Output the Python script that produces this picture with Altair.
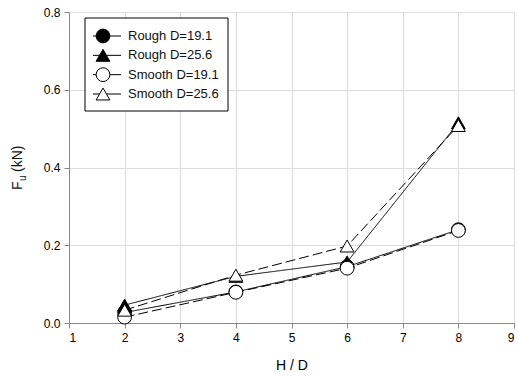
import altair as alt
import pandas as pd

series_names = ["Rough D=19.1", "Rough D=25.6", "Smooth D=19.1", "Smooth D=25.6"]
hd = [2, 4, 6, 8]
rough_191 = [0.027, 0.080, 0.145, 0.240]
rough_256 = [0.046, 0.120, 0.157, 0.515]
smooth_191 = [0.015, 0.079, 0.141, 0.238]
smooth_256 = [0.033, 0.123, 0.198, 0.508]

rows = []
for name, vals in zip(series_names, [rough_191, rough_256, smooth_191, smooth_256]):
    for x, y in zip(hd, vals):
        rows.append({"series": name, "HD": x, "Fu": y})
df = pd.DataFrame(rows)
leg = pd.DataFrame({"series": series_names, "pos": list(range(len(series_names)))})

FONT = "Liberation Sans"
W, H = 445, 311

shape_scale = alt.Scale(domain=series_names, range=["circle", "triangle-up", "circle", "triangle-up"])
fill_scale = alt.Scale(domain=series_names, range=["black", "black", "white", "white"])
dash_scale = alt.Scale(domain=series_names, range=[[1, 0], [1, 0], [10, 4], [10, 4]])

xenc = alt.X("HD:Q", scale=alt.Scale(domain=[1, 9], nice=False),
             axis=alt.Axis(values=list(range(1, 10)), format="d", title="H / D",
                           titleFontSize=14, titleFontWeight="normal", titlePadding=15,
                           labelPadding=4, labelFontSize=12, labelFont=FONT, titleFont=FONT))
yenc = alt.Y("Fu:Q", scale=alt.Scale(domain=[0, 0.8], nice=False),
             axis=alt.Axis(values=[0, 0.2, 0.4, 0.6, 0.8], format=".1f", title=None,
                           labelPadding=4, labelFontSize=12, labelFont=FONT))

base = alt.Chart(df)
lines = base.mark_line(color="black", strokeWidth=1).encode(
    x=xenc, y=yenc, detail="series:N",
    strokeDash=alt.StrokeDash("series:N", scale=dash_scale, legend=None),
)
points = base.mark_point(filled=True, stroke="black", strokeWidth=1, size=190, opacity=1).encode(
    x=xenc, y=yenc,
    shape=alt.Shape("series:N", scale=shape_scale, legend=None),
    fill=alt.Fill("series:N", scale=fill_scale, legend=None),
)

box = alt.Chart(pd.DataFrame({"a": [0]})).mark_rect(fill="white", stroke="black", strokeWidth=1).encode(
    x=alt.value(16), x2=alt.value(159), y=alt.value(6), y2=alt.value(99)
)
ly = alt.Y("pos:Q", scale=alt.Scale(domain=[0, 3], range=[24, 82], nice=False, zero=False), axis=None)
lchart = alt.Chart(leg)
leg_lines = lchart.mark_rule(color="black", strokeWidth=1).encode(
    x=alt.value(24), x2=alt.value(52), y=ly
)
leg_pts = lchart.mark_point(filled=True, stroke="black", strokeWidth=1, size=190, opacity=1).encode(
    x=alt.value(34), y=ly,
    shape=alt.Shape("series:N", scale=shape_scale, legend=None),
    fill=alt.Fill("series:N", scale=fill_scale, legend=None),
)
leg_txt = lchart.mark_text(align="left", baseline="middle", fontSize=13, font=FONT, color="#111").encode(
    x=alt.value(59), y=ly, text="series:N"
)

one = alt.Chart(pd.DataFrame({"a": [0]}))
t_F = one.mark_text(text="F", angle=270, align="left", baseline="middle", fontSize=14, font=FONT, color="#111").encode(
    x=alt.value(-51), y=alt.value(178))
t_u = one.mark_text(text="u", angle=270, align="left", baseline="middle", fontSize=10, font=FONT, color="#111").encode(
    x=alt.value(-46), y=alt.value(169))
t_kN = one.mark_text(text="(kN)", angle=270, align="left", baseline="middle", fontSize=14, font=FONT, color="#111").encode(
    x=alt.value(-51), y=alt.value(160))

main = alt.layer(lines, points)
legend_layer = alt.layer(box, leg_lines, leg_pts, leg_txt, t_F, t_u, t_kN)

chart = alt.layer(main, legend_layer).resolve_scale(y="independent").properties(
    width=W, height=H,
    autosize=alt.AutoSizeParams(type="none"),
    padding={"left": 69, "top": 12, "right": 4, "bottom": 53},
).configure_view(stroke="black", strokeWidth=1).configure_axis(
    domainColor="black", tickColor="black", tickSize=5, gridColor="#d0d0d0", gridWidth=1,
    labelColor="#222", titleColor="#111", domainWidth=1,
).configure(background="white")

chart.save("out.html", embed_options={"renderer": "svg", "actions": False})
